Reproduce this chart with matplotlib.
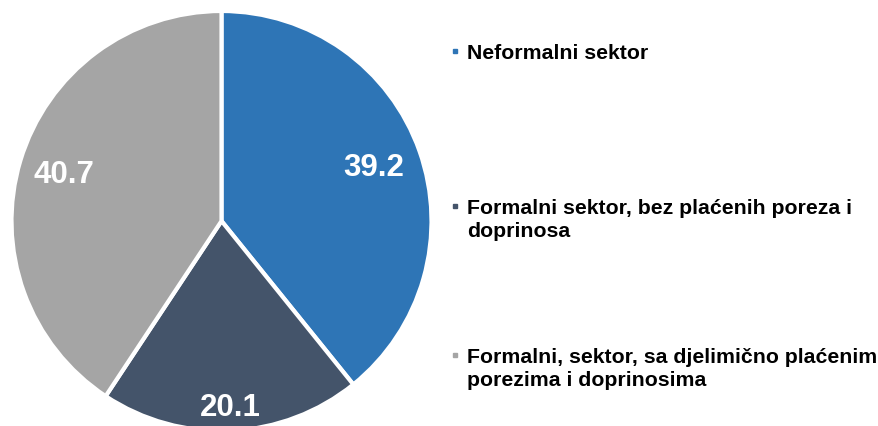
import numpy as np
import matplotlib
matplotlib.use('Agg')
import matplotlib.pyplot as plt

values = [39.2, 20.1, 40.7]
labels = ['Neformalni sektor',
          'Formalni sektor, bez plaćenih poreza i\ndoprinosa',
          'Formalni, sektor, sa djelimično plaćenim\nporezima i doprinosima']
colors = ['#2E75B6', '#44546A', '#A5A5A5']

W, H = 879, 427
label_frac = [0.77, 0.885, 0.785]   # radial position of the value labels
legend_y = [52, 207, 356]           # image-pixel y of first legend line

plt.rcParams['font.family'] = ['Liberation Sans', 'DejaVu Sans']

fig = plt.figure(figsize=(W / 100, H / 100), dpi=100)
ax = fig.add_axes([0, 0, 1, 1])

cx, cy, r = 221.5, H - 222, 210
wedges, _ = ax.pie(values, colors=colors, startangle=90, counterclock=False,
                   center=(cx, cy), radius=r, frame=True,
                   wedgeprops={'edgecolor': 'white', 'linewidth': 3})
ax.set_xlim(0, W)
ax.set_ylim(0, H)
ax.set_aspect('equal')
ax.axis('off')

for w, v, f in zip(wedges, values, label_frac):
    ang = np.deg2rad((w.theta1 + w.theta2) / 2)
    x = cx + f * r * np.cos(ang)
    y = cy + f * r * np.sin(ang)
    ax.text(x, y, f'{v:.1f}', color='white', fontsize=22.5, fontweight='bold',
            ha='center', va='center')

for lab, col, y in zip(labels, colors, legend_y):
    ax.plot(455, H - y, marker='s', ms=3.2, color=col, linestyle='')
    ax.text(467, H - y + 8, lab, fontsize=15.3, fontweight='bold',
            color='black', ha='left', va='top', linespacing=1.26)

fig.savefig('out.png', dpi=100)
